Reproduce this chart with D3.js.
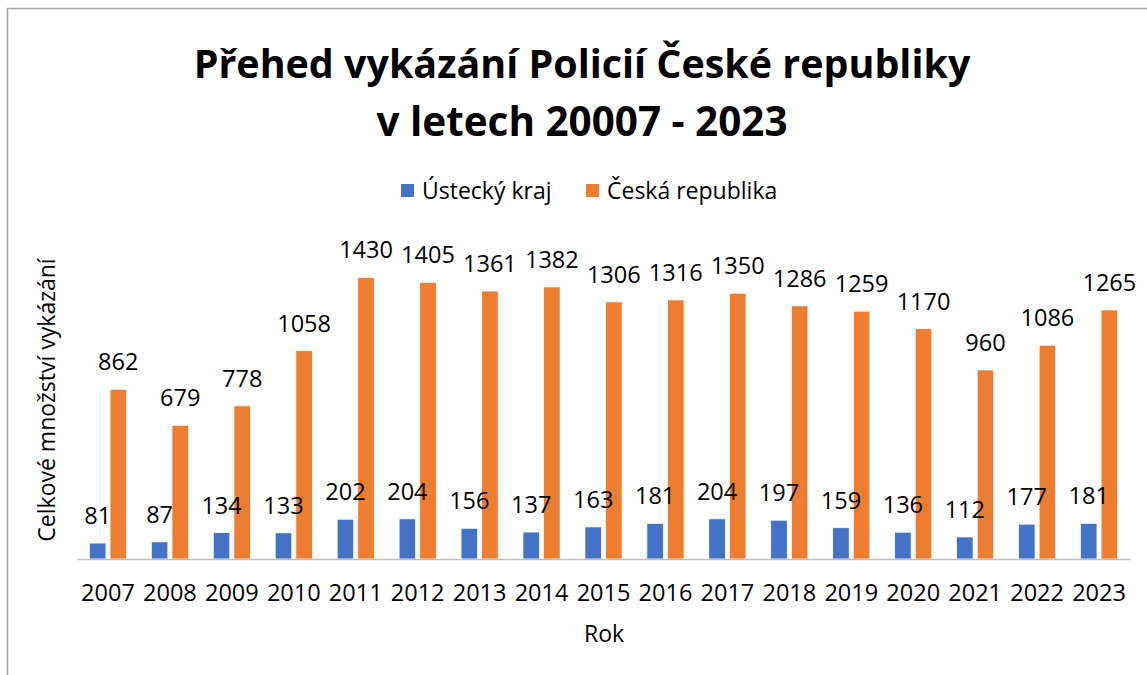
<!DOCTYPE html>
<html>
<head>
<meta charset="utf-8">
<script src="https://cdn.jsdelivr.net/npm/d3@7"></script>
<style>
  body { margin: 0; background: #fff; }
  text { font-family: "Open Sans", sans-serif; }
</style>
</head>
<body>
<div id="chart"></div>
<script>
// data
const years = ["2007","2008","2009","2010","2011","2012","2013","2014","2015","2016","2017","2018","2019","2020","2021","2022","2023"];
const seriesNames = ["Ústecký kraj", "Česká republika"];
const ustecky = [81,87,134,133,202,204,156,137,163,181,204,197,159,136,112,177,181];
const cr = [862,679,778,1058,1430,1405,1361,1382,1306,1316,1350,1286,1259,1170,960,1086,1265];
const colors = ["#4472C4", "#ED7D31"];

const width = 1147, height = 675;

const svg = d3.select("#chart")
  .append("svg")
    .attr("width", width)
    .attr("height", height);

svg.append("rect")
  .attr("width", width).attr("height", height)
  .attr("fill", "#fff");

// chart border (only left and top visible in the picture)
svg.append("path")
  .attr("d", "M7.5," + height + "V8.5H" + width)
  .attr("fill", "none")
  .attr("stroke", "#a6a6a6")
  .attr("stroke-width", 1.5);

// title, sized to fit the original width
const title = svg.append("g").attr("font-weight", "bold").attr("text-anchor", "middle").attr("fill", "#000");
const t1 = title.append("text").attr("x", 582).attr("y", 78).text("Přehed vykázání Policií České republiky");
const t2 = title.append("text").attr("x", 582).attr("y", 136).text("v letech 20007 - 2023");
t1.style("font-size", "40px");
const fs = 40 * 777 / t1.node().getComputedTextLength();
t1.style("font-size", fs + "px");
t2.style("font-size", (fs + 1) + "px");

// scales
const x = d3.scaleBand()
  .domain(years)
  .range([77, 1130])
  .paddingInner(0.4)
  .paddingOuter(0.2);

const xs = d3.scaleBand()
  .domain(seriesNames)
  .range([0, x.bandwidth()])
  .paddingInner(0.2);

const y = d3.scaleLinear()
  .domain([0, 1600])
  .range([559, 244]);

const rows = years.map(function(yr, i) {
  return { year: yr, values: [ustecky[i], cr[i]] };
});

// bars
const groups = svg.selectAll("g.year")
  .data(rows)
  .enter()
  .append("g")
    .attr("class", "year")
    .attr("transform", function(d) { return "translate(" + x(d.year) + ",0)"; });

groups.selectAll("rect")
  .data(function(d) { return d.values.map(function(v, k) { return { s: seriesNames[k], v: v, k: k }; }); })
  .enter()
  .append("rect")
    .attr("x", function(d) { return xs(d.s); })
    .attr("y", function(d) { return y(d.v); })
    .attr("width", xs.bandwidth())
    .attr("height", function(d) { return y(0) - y(d.v); })
    .attr("fill", function(d) { return colors[d.k]; })
    .attr("stroke", "#fff")
    .attr("stroke-width", 0.75);

// data labels
groups.selectAll("text.lbl")
  .data(function(d) { return d.values.map(function(v, k) { return { s: seriesNames[k], v: v }; }); })
  .enter()
  .append("text")
    .attr("class", "lbl")
    .attr("x", function(d) { return xs(d.s) + xs.bandwidth() / 2; })
    .attr("y", function(d) { return y(d.v) - 19; })
    .attr("text-anchor", "middle")
    .style("font-size", "23.5px")
    .attr("fill", "#000")
    .text(function(d) { return d.v; });

// x axis
const xAxis = svg.append("g")
  .attr("transform", "translate(0," + y(0) + ")")
  .call(d3.axisBottom(x).tickSize(0).tickPadding(42));
xAxis.select(".domain").attr("stroke", "#bfbfbf").attr("stroke-width", 1.5);
xAxis.selectAll("text")
  .attr("dy", 0)
  .style("font-size", "23.5px")
  .style("font-family", "'Open Sans', sans-serif")
  .attr("fill", "#000");

// axis titles
svg.append("text")
  .attr("x", 604).attr("y", 642)
  .attr("text-anchor", "middle")
  .style("font-size", "23px")
  .attr("fill", "#000")
  .text("Rok");

svg.append("text")
  .attr("transform", "translate(55,400) rotate(-90)")
  .attr("text-anchor", "middle")
  .style("font-size", "23px")
  .attr("fill", "#000")
  .text("Celkové množství vykázání");

// legend
const legend = svg.append("g");
const legX = [401, 586];
seriesNames.forEach(function(name, k) {
  legend.append("rect")
    .attr("x", legX[k]).attr("y", 184)
    .attr("width", 13).attr("height", 13)
    .attr("fill", colors[k]);
  legend.append("text")
    .attr("x", legX[k] + 21).attr("y", 199)
    .style("font-size", "23px")
    .attr("fill", "#000")
    .text(name);
});
</script>
</body>
</html>
